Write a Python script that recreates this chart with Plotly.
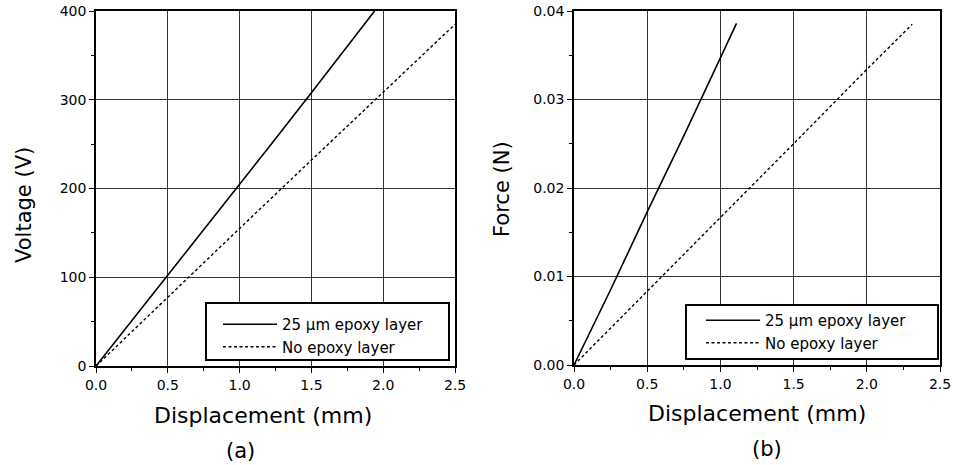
import plotly.graph_objects as go

# ---- data ----
# (a) Voltage vs displacement
disp_a_epoxy = [0, 0.25, 0.5, 0.75, 1.0, 1.25, 1.5, 1.75, 1.94]
volt_a_epoxy = [0, 51, 103, 154, 204, 256, 308, 360, 400]
disp_a_none = [0, 0.5, 1.0, 1.5, 2.0, 2.5]
volt_a_none = [0, 78, 155, 232, 309, 385]

# (b) Force vs displacement
disp_b_epoxy = [0, 0.25, 0.5, 0.75, 1.0, 1.11]
force_b_epoxy = [0, 0.0085, 0.0173, 0.0259, 0.0347, 0.0386]
disp_b_none = [0, 0.5, 1.0, 1.5, 2.0, 2.31]
force_b_none = [0, 0.0083, 0.0167, 0.0250, 0.0334, 0.0385]

series_names = ["25 \u03bcm epoxy layer", "No epoxy layer"]
x_ticks = [0.0, 0.5, 1.0, 1.5, 2.0, 2.5]
ya_ticks = [0, 100, 200, 300, 400]
yb_ticks = [0.00, 0.01, 0.02, 0.03, 0.04]
panel_labels = ["(a)", "(b)"]
x_title = "Displacement (mm)"
y_titles = ["Voltage (V)", "Force (N)"]

W, H = 954, 465
FONT = "DejaVu Sans"

def px(x):
    return x / W

def py(y):
    return 1 - y / H

fig = go.Figure()

solid = dict(color="black", width=1.6)
dashed = dict(color="black", width=1.4, dash="3px,2.5px")

fig.add_trace(go.Scatter(x=disp_a_epoxy, y=volt_a_epoxy, mode="lines", line=solid,
                         name=series_names[0], xaxis="x", yaxis="y", legend="legend"))
fig.add_trace(go.Scatter(x=disp_a_none, y=volt_a_none, mode="lines", line=dashed,
                         name=series_names[1], xaxis="x", yaxis="y", legend="legend"))
fig.add_trace(go.Scatter(x=disp_b_epoxy, y=force_b_epoxy, mode="lines", line=solid,
                         name=series_names[0], xaxis="x2", yaxis="y2", legend="legend2"))
fig.add_trace(go.Scatter(x=disp_b_none, y=force_b_none, mode="lines", line=dashed,
                         name=series_names[1], xaxis="x2", yaxis="y2", legend="legend2"))

dom_a_x = [px(96), px(455)]
dom_b_x = [px(574), px(940)]
dom_y = [py(366), py(11)]
dom_yb = [py(365), py(11)]

tickfont = dict(family=FONT, size=14, color="black")
GRID = "#333333"

def main_axis(rng, tickvals, fmt, domain, anchor, minor_dtick):
    return dict(range=rng, domain=domain, anchor=anchor, tickvals=tickvals, tickformat=fmt,
                showline=True, linecolor="black", linewidth=1.5, mirror=True,
                ticks="outside", ticklen=5, tickwidth=1, tickcolor="black",
                minor=dict(ticks="outside", ticklen=3, tickwidth=1, tickcolor="black",
                           dtick=minor_dtick, tick0=0, showgrid=False),
                showgrid=True, gridcolor=GRID, gridwidth=1, zeroline=False,
                tickfont=tickfont, fixedrange=True, automargin=False)

def mirror_axis(rng, tickvals, overlay, side, anchor, minor_dtick):
    return dict(range=rng, overlaying=overlay, side=side, anchor=anchor, tickvals=tickvals,
                ticks="inside", ticklen=5, tickwidth=1, tickcolor="black",
                minor=dict(ticks="inside", ticklen=3, tickwidth=1, tickcolor="black",
                           dtick=minor_dtick, tick0=0, showgrid=False),
                showticklabels=False, showgrid=False, showline=False, zeroline=False,
                fixedrange=True, automargin=False)

legend_font = dict(family=FONT, size=15, color="black")

layout = dict(
    template="none",
    width=W, height=H,
    margin=dict(l=0, r=0, t=0, b=0, pad=0, autoexpand=False),
    paper_bgcolor="white", plot_bgcolor="white",
    font=dict(family=FONT, color="black"),
    xaxis=main_axis([0, 2.5], x_ticks, ".1f", dom_a_x, "y", 0.25),
    yaxis=main_axis([0, 400], ya_ticks, "d", dom_y, "x", 50),
    xaxis2=main_axis([0, 2.5], x_ticks, ".1f", dom_b_x, "y2", 0.25),
    yaxis2=main_axis([0, 0.04], yb_ticks, ".2f", dom_yb, "x2", 0.005),
    xaxis3=mirror_axis([0, 2.5], x_ticks, "x", "top", "y", 0.25),
    yaxis3=mirror_axis([0, 400], ya_ticks, "y", "right", "x", 50),
    xaxis4=mirror_axis([0, 2.5], x_ticks, "x2", "top", "y2", 0.25),
    yaxis4=mirror_axis([0, 0.04], yb_ticks, "y2", "right", "x2", 0.005),
    legend=dict(x=px(218), y=py(308), xanchor="left", yanchor="top",
                bgcolor="rgba(0,0,0,0)", borderwidth=0,
                font=legend_font, itemwidth=54, tracegroupgap=0),
    legend2=dict(x=px(701), y=py(304), xanchor="left", yanchor="top",
                 bgcolor="rgba(0,0,0,0)", borderwidth=0,
                 font=legend_font, itemwidth=54, tracegroupgap=0),
    showlegend=True,
    # legend frames
    shapes=[
        dict(type="rect", xref="paper", yref="paper", layer="above",
             x0=px(206), x1=px(449), y0=py(360), y1=py(303),
             line=dict(color="black", width=2), fillcolor="white"),
        dict(type="rect", xref="paper", yref="paper", layer="above",
             x0=px(686), x1=px(938), y0=py(359), y1=py(305),
             line=dict(color="black", width=2), fillcolor="white"),
    ],
)
fig.update_layout(**layout)

ann = []
ann.append(dict(text=x_title, x=px(263), y=py(415), xref="paper", yref="paper",
                showarrow=False, xanchor="center", yanchor="middle",
                font=dict(family=FONT, size=22, color="black")))
ann.append(dict(text=x_title, x=px(757), y=py(413), xref="paper", yref="paper",
                showarrow=False, xanchor="center", yanchor="middle",
                font=dict(family=FONT, size=22, color="black")))
ann.append(dict(text=y_titles[0], x=px(24), y=py(205), xref="paper", yref="paper",
                showarrow=False, textangle=-90, xanchor="center", yanchor="middle",
                font=dict(family=FONT, size=21, color="black")))
ann.append(dict(text=y_titles[1], x=px(502), y=py(189), xref="paper", yref="paper",
                showarrow=False, textangle=-90, xanchor="center", yanchor="middle",
                font=dict(family=FONT, size=21, color="black")))
ann.append(dict(text=panel_labels[0], x=px(240), y=py(451), xref="paper", yref="paper",
                showarrow=False, xanchor="center", yanchor="middle",
                font=dict(family=FONT, size=21, color="black")))
ann.append(dict(text=panel_labels[1], x=px(767), y=py(449), xref="paper", yref="paper",
                showarrow=False, xanchor="center", yanchor="middle",
                font=dict(family=FONT, size=21, color="black")))
fig.update_layout(annotations=ann)

fig.write_html("out.html",
               config={"displayModeBar": False},
               post_script="document.body.style.margin='0';document.body.style.padding='0';")
